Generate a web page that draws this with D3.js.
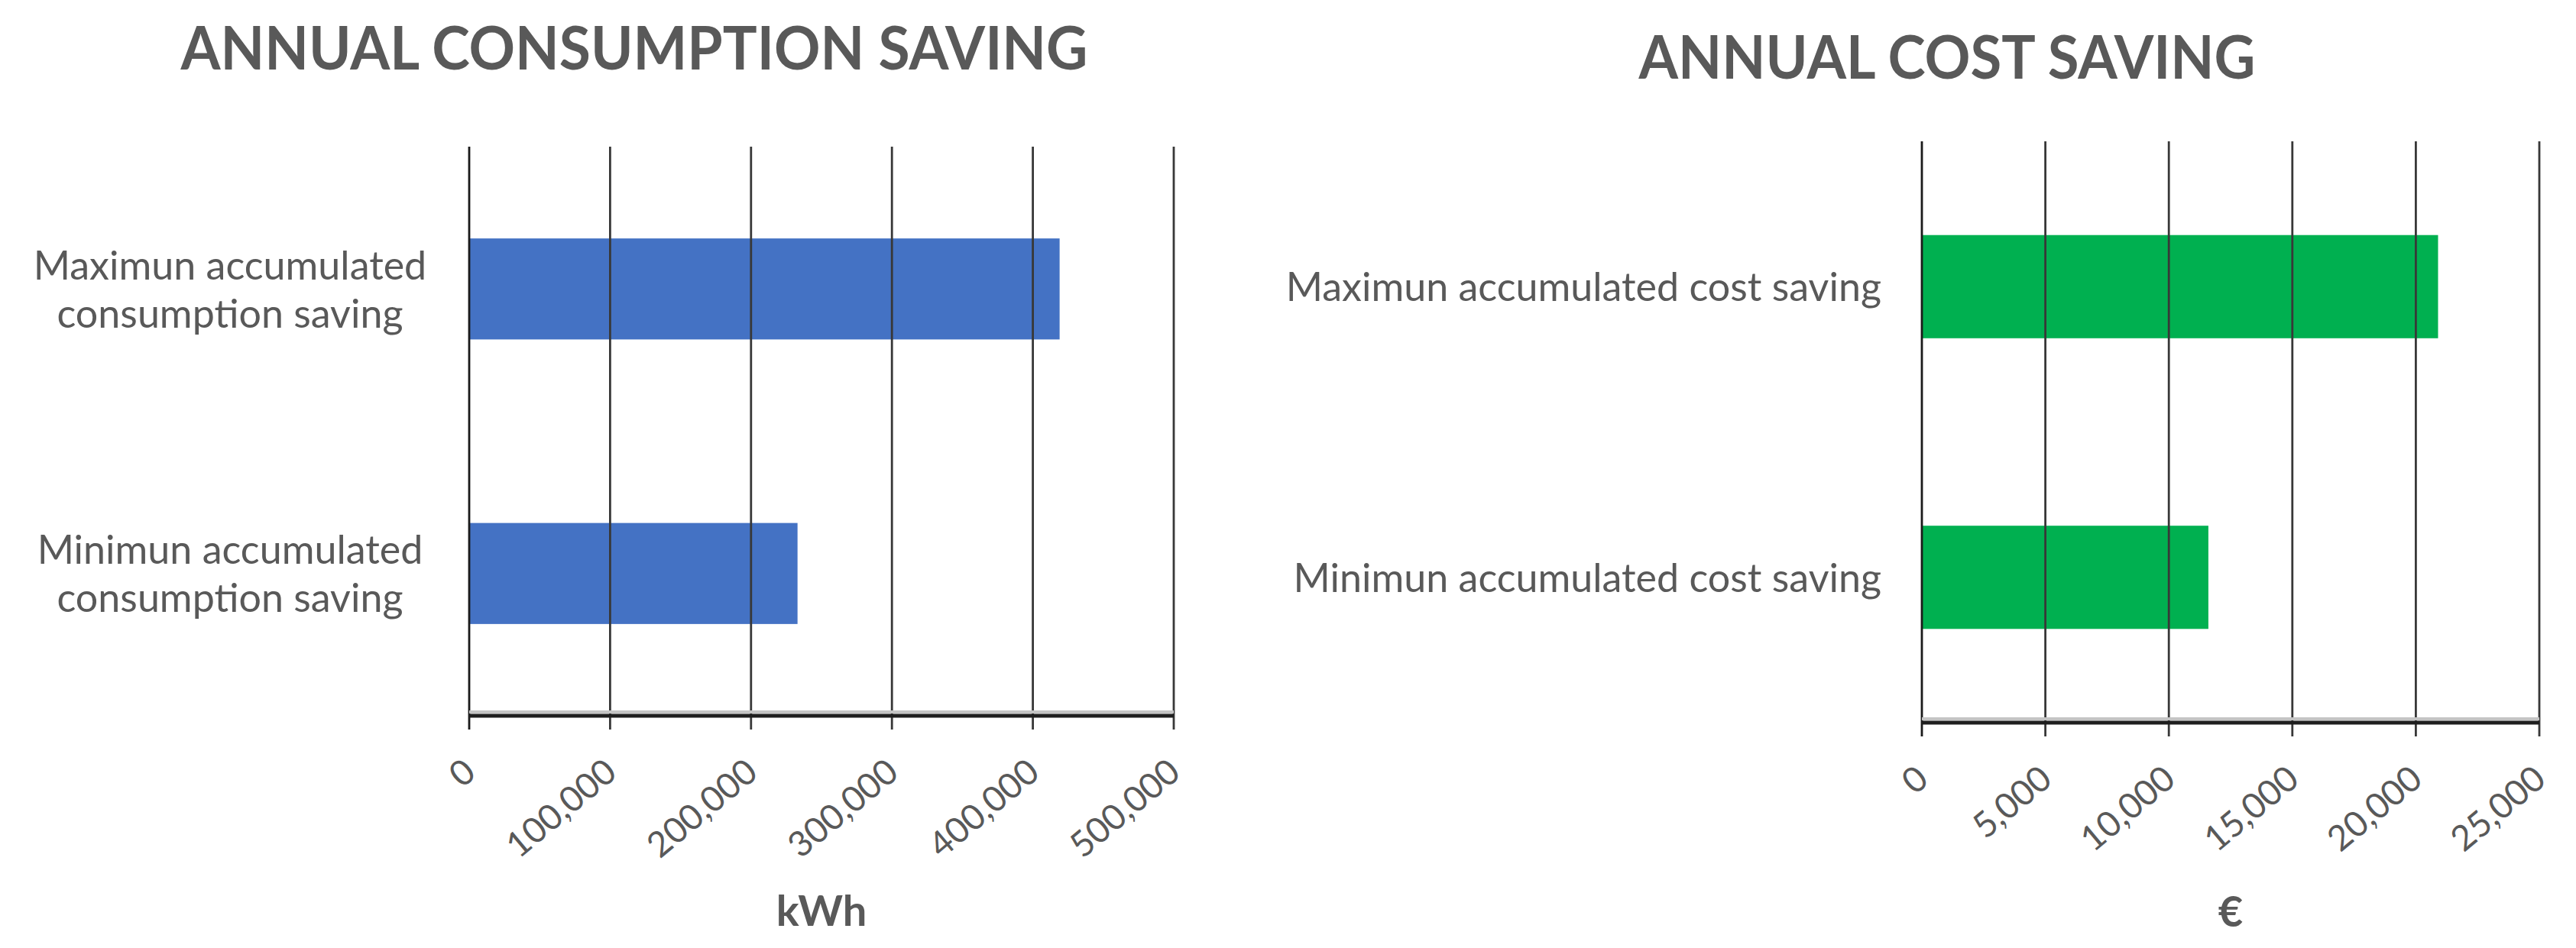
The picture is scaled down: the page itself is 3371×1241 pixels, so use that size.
<!DOCTYPE html>
<html>
<head>
<meta charset="utf-8">
<script src="https://cdn.jsdelivr.net/npm/d3@7"></script>
<style>
  html, body { margin: 0; padding: 0; background: #ffffff; }
  svg { display: block; }
  text { font-family: Lato, "Open Sans", sans-serif; fill: #595959; }
</style>
</head>
<body>
<svg id="chart" width="3371" height="1241"></svg>
<script>
// ---- Data ----
const consumptionTitle = "ANNUAL CONSUMPTION SAVING";
const consumptionCategories = ["Maximun accumulated consumption saving", "Minimun accumulated consumption saving"];
const consumptionValues = [419000, 233000];
const consumptionTicks = [0, 100000, 200000, 300000, 400000, 500000];
const consumptionUnit = "kWh";

const costTitle = "ANNUAL COST SAVING";
const costCategories = ["Maximun accumulated cost saving", "Minimun accumulated cost saving"];
const costValues = [20900, 11600];
const costTicks = [0, 5000, 10000, 15000, 20000, 25000];
const costUnit = "€";

const svg = d3.select("#chart");
const fmt = d3.format(",");

function drawChart(cfg) {
  const g = svg.append("g");
  const x = d3.scaleLinear().domain([cfg.ticks[0], cfg.ticks[cfg.ticks.length - 1]]).range([cfg.x0, cfg.x1]);
  const y = d3.scaleBand().domain(cfg.categories).range([cfg.top, cfg.axisY]).paddingInner(0.645).paddingOuter(0.3225);

  // title
  g.append("text")
    .attr("x", cfg.titleX).attr("y", cfg.titleY)
    .attr("text-anchor", "middle")
    .attr("textLength", cfg.titleWidth)
    .attr("lengthAdjust", "spacingAndGlyphs")
    .style("font-weight", "700").style("font-size", "78px")
    .text(cfg.title);

  // bars
  g.selectAll("rect.bar").data(cfg.values).join("rect")
    .attr("class", "bar")
    .attr("x", x(0))
    .attr("y", (d, i) => y(cfg.categories[i]))
    .attr("width", d => x(d) - x(0))
    .attr("height", y.bandwidth())
    .attr("fill", cfg.color);

  // vertical gridlines (+ tick marks below axis)
  g.selectAll("line.grid").data(cfg.ticks).join("line")
    .attr("class", "grid")
    .attr("x1", d => x(d)).attr("x2", d => x(d))
    .attr("y1", cfg.top).attr("y2", cfg.axisY + 18)
    .attr("stroke", (d, i) => i === 0 ? "#1a1a1a" : "#383838")
    .attr("stroke-width", 2.8);

  // axis line with light shadow above
  g.append("line")
    .attr("x1", x.range()[0]).attr("x2", x.range()[1])
    .attr("y1", cfg.axisY - 5).attr("y2", cfg.axisY - 5)
    .attr("stroke", "#c4c4c4").attr("stroke-width", 4);
  g.append("line")
    .attr("x1", x.range()[0]).attr("x2", x.range()[1])
    .attr("y1", cfg.axisY).attr("y2", cfg.axisY)
    .attr("stroke", "#1e1e1e").attr("stroke-width", 5);

  // tick labels rotated
  g.selectAll("text.tick").data(cfg.ticks).join("text")
    .attr("class", "tick")
    .attr("transform", d => `translate(${x(d) - 10},${cfg.axisY + 53}) rotate(-40)`)
    .attr("text-anchor", "end")
    .attr("dy", "0.72em")
    .style("font-size", "46px")
    .text(d => fmt(d));

  // category labels
  cfg.categories.forEach((c, i) => {
    const cy = y(c) + y.bandwidth() / 2;
    const t = g.append("text")
      .attr("text-anchor", cfg.labelAnchor)
      .style("font-size", "52px");
    const lines = cfg.wrap ? cfg.wrap(c) : [c];
    const lh = 63;
    lines.forEach((ln, j) => {
      t.append("tspan")
        .attr("x", cfg.labelX)
        .attr("y", cy - (lines.length - 1) * lh / 2 + j * lh + 19)
        .text(ln);
    });
  });

  // unit label
  g.append("text")
    .attr("x", (cfg.x0 + cfg.x1) / 2).attr("y", cfg.unitY)
    .attr("text-anchor", "middle")
    .style("font-weight", "700").style("font-size", "56px")
    .text(cfg.unit);
}

function wrapTwo(s) {
  const w = s.split(" ");
  return [w.slice(0, 2).join(" "), w.slice(2).join(" ")];
}

drawChart({
  title: consumptionTitle, categories: consumptionCategories, values: consumptionValues,
  ticks: consumptionTicks, unit: consumptionUnit, color: "#4472C4",
  x0: 614, x1: 1536, top: 192, axisY: 937,
  titleX: 830, titleY: 91, titleWidth: 1187, labelX: 301, labelAnchor: "middle", wrap: wrapTwo, unitY: 1212
});

drawChart({
  title: costTitle, categories: costCategories, values: costValues,
  ticks: costTicks, unit: costUnit, color: "#00B050",
  x0: 2515, x1: 3323, top: 185, axisY: 946,
  titleX: 2548, titleY: 103, titleWidth: 807, labelX: 2462, labelAnchor: "end", wrap: null, unitY: 1213
});
</script>
</body>
</html>
